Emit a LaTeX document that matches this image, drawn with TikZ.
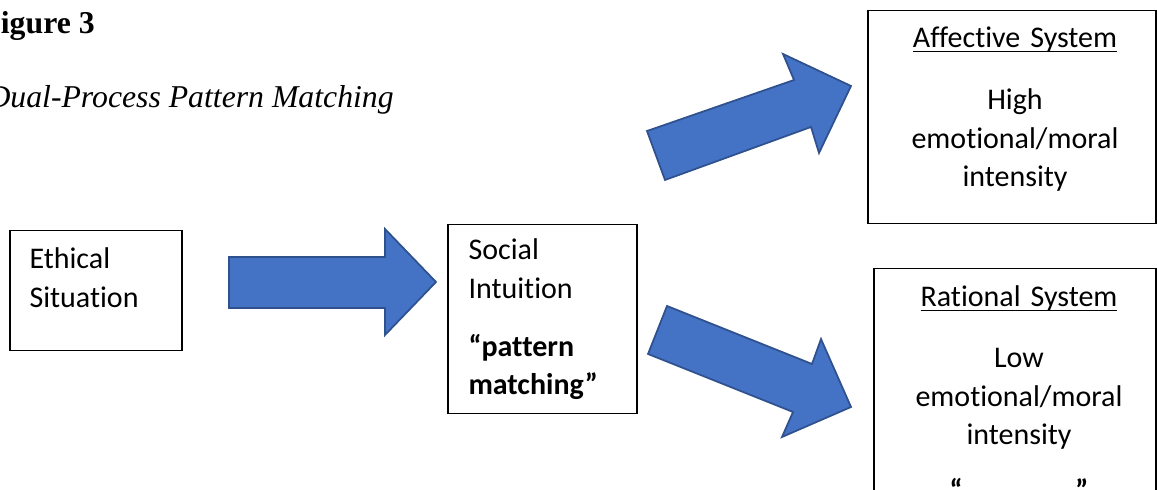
\documentclass[tikz,border=0pt]{standalone}
\usepackage{fontspec}
\setmainfont{Liberation Serif}
\newfontfamily\calibri[Ligatures=NoCommon,RawFeature=-liga]{Carlito}
\usepackage{xcolor}
\usepackage{tikz}
\usetikzlibrary{positioning}
\definecolor{arrowFill}{HTML}{4472C4}
\definecolor{arrowLine}{HTML}{2F528F}

\tikzset{
  boxframe/.style={draw=black, line width=0.6pt, fill=white, inner sep=0pt, anchor=north west},
  boxtext/.style={inner sep=0pt, font=\calibri\fontsize{12}{15.4}\selectfont, text width=#1},
  blockarrow/.style={draw=arrowLine, line width=0.7pt, fill=arrowFill, line join=miter},
  captext/.style={inner sep=0pt, anchor=base west, font=\fontsize{12.7}{15}\selectfont}
}

\begin{document}
\begin{tikzpicture}[x=0.4pt, y=-0.4pt]
  \useasboundingbox (0,0) rectangle (1157,490);
  \clip (0,0) rectangle (1157,490);

  % caption
  \node[captext, font=\bfseries\fontsize{12.7}{15}\selectfont] (figlabel) at (-19,34) {Figure 3};
  \node[captext, font=\itshape\fontsize{12.7}{15}\selectfont] (figtitle) at (-13,108) {Dual-Process Pattern Matching};

  % boxes
  \node[boxframe, minimum width=68.8pt, minimum height=48pt] (ethical) at (9,230) {};
  \node[boxframe, minimum width=75.6pt, minimum height=75.6pt] (social) at (447,224) {};
  \node[boxframe, minimum width=115.2pt, minimum height=85.2pt] (affective) at (867,10) {};
  \node[boxframe, minimum width=112.8pt, minimum height=104pt] (rational) at (873,268) {};

  \node[boxtext=56pt, anchor=base west, align=left] (ethicaltxt) at (29,269)
    {Ethical\\Situation};
  \node[boxtext=60pt, anchor=base west, align=left] (socialtxt) at (468,260)
    {Social\\Intuition\\[7.8pt]{\bfseries “pattern\\matching”}};
  \node[boxtext=104pt, anchor=base, align=center] (affectivetxt) at (1015,48)
    {\underline{\smash{Affective System}}\\[9.4pt]High\\emotional/moral\\intensity};
  \node[boxtext=104pt, anchor=base, align=center] (rationaltxt) at (1019,307)
    {\underline{\smash{Rational System}}\\[9pt]Low\\emotional/moral\\intensity\\[7pt]{\bfseries “\hspace{45pt}”}};

  % block arrows
  \draw[blockarrow] (229,257) -- (385,257) -- (385,229) -- (436,282) -- (385,335)
    -- (385,308) -- (229,308) -- cycle;
  \draw[blockarrow] (665,180) -- (647,131) -- (794,80) -- (783,54) -- (851,86)
    -- (819,153) -- (811,127) -- cycle;
  \draw[blockarrow] (667,306) -- (648,354) -- (793,412) -- (782,437) -- (851,407)
    -- (821,339) -- (812,364) -- cycle;
\end{tikzpicture}
\end{document}
